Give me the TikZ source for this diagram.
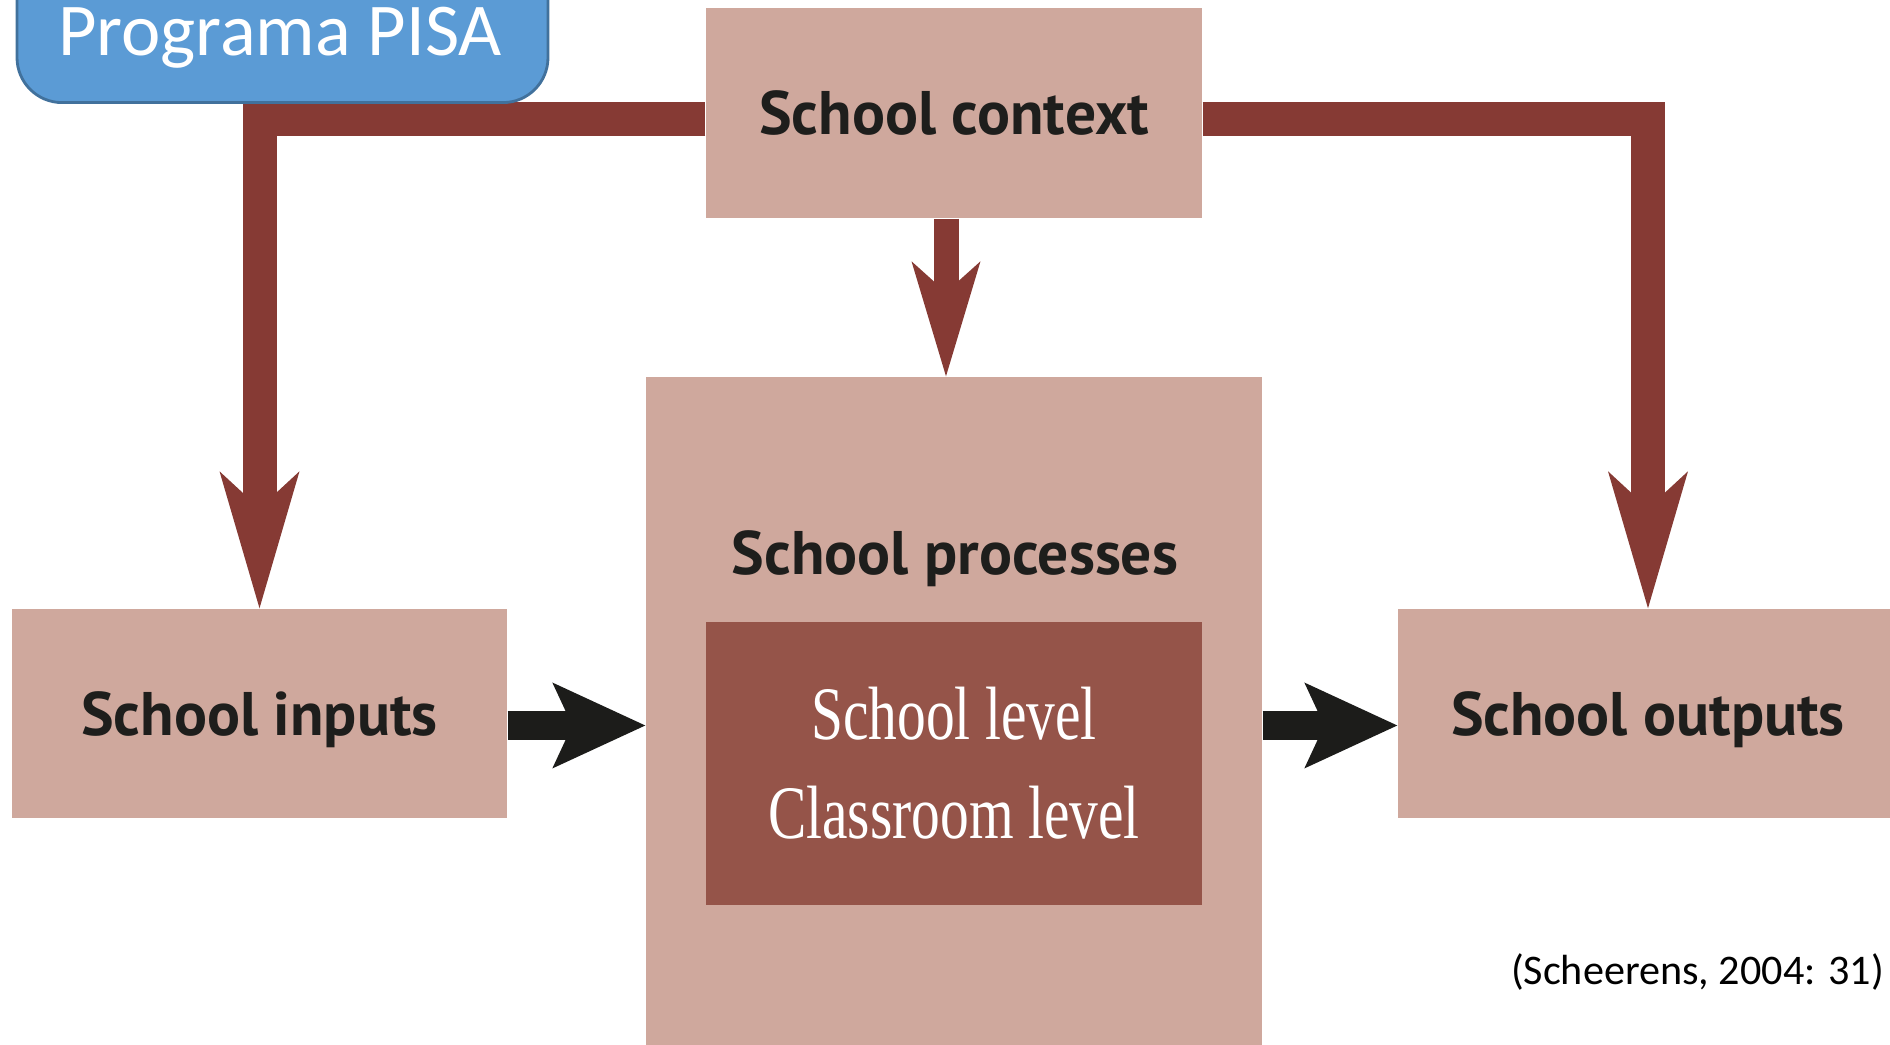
\documentclass[tikz,border=0pt]{standalone}
\usepackage{fontspec}
\usetikzlibrary{arrows.meta,calc}
\newfontfamily\boxfont{PT Sans}
\newfontfamily\levelfont[FakeStretch=0.76]{Liberation Serif}
\newfontfamily\slidefont{Carlito}
\definecolor{boxpink}{HTML}{CFA89D}
\definecolor{levelbrown}{HTML}{955449}
\definecolor{linkred}{HTML}{863A34}
\definecolor{linkblack}{HTML}{1C1C1A}
\definecolor{labeldark}{HTML}{1E1E1C}
\definecolor{pisablue}{HTML}{5B9BD5}
\definecolor{pisaedge}{HTML}{41719C}

\begin{document}
\begin{tikzpicture}
    \tikzset{box/.style={fill=boxpink, inner sep=0pt, text=labeldark, text depth=0pt,
        font=\boxfont\bfseries\fontsize{17.5}{20}\selectfont},
      levels/.style={fill=levelbrown, inner sep=0pt, align=center, text=white,
        font=\levelfont\fontsize{21.5}{28.2}\selectfont},
      redlink/.style={draw=linkred, line width=0.34cm,
        -{Stealth[length=1.37cm,width=0.8cm,inset=0.37cm,line width=0pt]}},
      blacklink/.style={draw=linkblack, line width=0.29cm,
        -{Stealth[length=0.93cm,width=0.86cm,inset=0.2cm,line width=0pt]}}}
\useasboundingbox (0,0) rectangle (18.9,10.45);
\node[box, minimum width=4.96cm, minimum height=2.1cm] (context) at (9.54,9.32) {School context};
\node[box, minimum width=6.16cm, minimum height=6.68cm] (processes) at (9.54,3.34) {};
\node[box, fill=none, anchor=base] (proctitle) at (9.55,4.70) {School processes};
\node[levels, minimum width=4.96cm, minimum height=2.83cm] (levels) at (9.54,2.815) {School level\\Classroom level};
\node[box, minimum width=4.95cm, minimum height=2.09cm] (inputs) at (2.595,3.315) {School inputs};
\node[box, minimum width=5cm, minimum height=2.09cm] (outputs) at (16.48,3.315) {School outputs};

 \draw[redlink] ([yshift=-0.06cm]context.west) -| (inputs.north);
 \draw[redlink] ([yshift=-0.06cm]context.east) -| (outputs.north);
 \draw[redlink, line width=0.25cm, -{Stealth[length=1.15cm,width=0.69cm,inset=0.31cm,line width=0pt]}]
   ([xshift=-0.08cm]context.south) -- ([xshift=-0.08cm]processes.north);
 \draw[blacklink] ([yshift=-0.12cm]inputs.east) -- ([yshift=-0.12cm]inputs.east -| processes.west);
 \draw[blacklink] ([yshift=-0.12cm]outputs.west -| processes.east) -- ([yshift=-0.12cm]outputs.west);

\node[text=black, font=\slidefont\fontsize{12}{14}\selectfont, anchor=base] (source) at (16.975,0.60) {(Scheerens, 2004: 31)};
% slide title, cut by the top edge
\node[draw=pisaedge, line width=0.8pt, fill=pisablue, rounded corners=0.45cm, minimum width=5.31cm,
  minimum height=1.8cm, anchor=south] (pisa) at (2.825,9.41) {};
\node[text=white, font=\slidefont\fontsize{21.2}{25}\selectfont, anchor=base] (pisatitle) at (2.80,9.89) {Programa PISA};
\end{tikzpicture}
\end{document}
